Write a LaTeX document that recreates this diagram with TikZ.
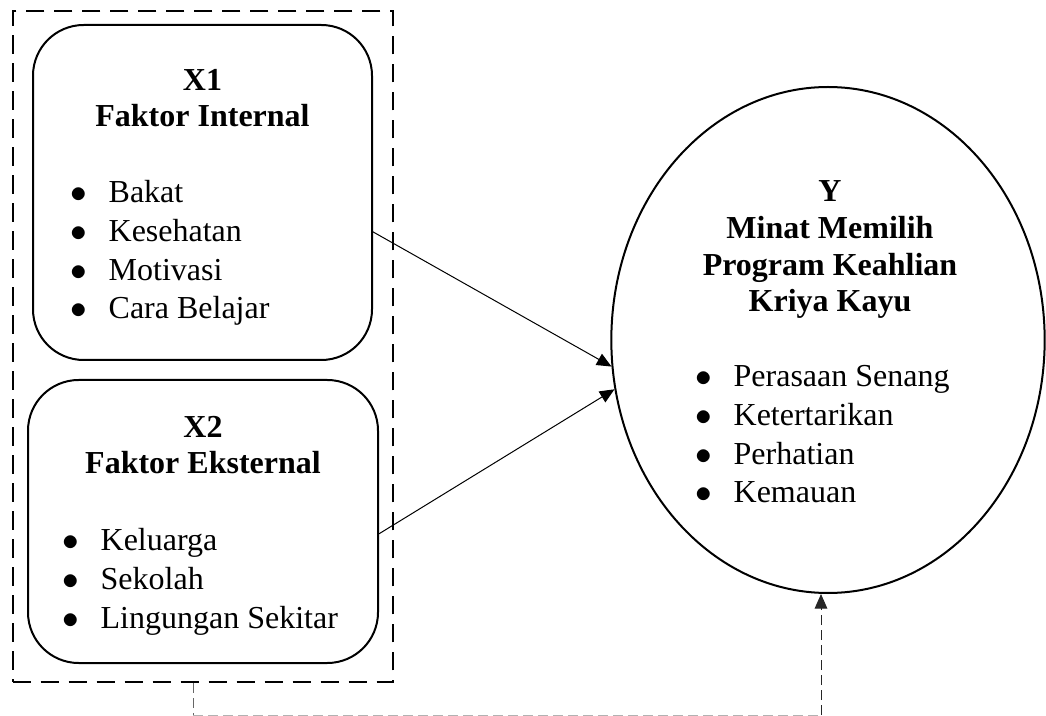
\documentclass[tikz,border=0pt]{standalone}
\usepackage{fontspec}
\setmainfont{Liberation Serif}
\usetikzlibrary{shapes.geometric,arrows.meta,fit}
\newcommand\itm[1]{\makebox[29pt][l]{$\bullet$}#1}
\tikzset{
  x=0.75pt, y=-0.75pt,
  txt/.style={inner sep=0pt, outer sep=0pt},
  ttl/.style={txt, align=center, anchor=base, font=\fontsize{24pt}{27.5pt}\selectfont\bfseries},
  lst/.style={txt, align=left, anchor=base west, font=\fontsize{24pt}{29.2pt}\selectfont},
  rbox/.style={draw, line width=1.5pt, rounded corners=38pt, inner sep=0pt},
  grpbox/.style={draw, line width=1.5pt, dash pattern=on 14pt off 7pt, inner sep=0pt},
  arr/.style={line width=0.75pt, -{Triangle[length=11pt,width=9.5pt]}},
  thin dash/.style={line width=0.75pt, dash pattern=on 7.5pt off 3.75pt},
}
\begin{document}
\begin{tikzpicture}
\useasboundingbox (0,0) rectangle (1046,716);
% outer dashed group
\coordinate (g1) at (12.7,11);
\coordinate (g2) at (393,682);
\node[grpbox, fit=(g1)(g2)] (grp) {};
% X1 box
\coordinate (a1) at (33,25);
\coordinate (a2) at (372,360);
\node[rbox, fit=(a1)(a2)] (x1) {};
% X2 box
\coordinate (b1) at (28,380);
\coordinate (b2) at (378,663);
\node[rbox, fit=(b1)(b2)] (x2) {};
% Y ellipse
\node[ellipse, draw, line width=1.5pt, inner sep=0pt, minimum width=325pt, minimum height=379.5pt] (yy) at (828,340) {};

% texts (anchored at the baseline of their last line)
\node[ttl] (x1t) at (202.5,127) {X1\\Faktor Internal};
\node[lst] (x1l) at (70,319) {\itm{Bakat}\\\itm{Kesehatan}\\\itm{Motivasi}\\\itm{Cara Belajar}};
\node[ttl] (x2t) at (203,474) {X2\\Faktor Eksternal};
\node[lst] (x2l) at (62,628) {\itm{Keluarga}\\\itm{Sekolah}\\\itm{Lingungan Sekitar}};
\node[ttl] (yt) at (830,312) {Y\\Minat Memilih\\Program Keahlian\\Kriya Kayu};
\node[lst] (yl) at (695,503) {\itm{Perasaan Senang}\\\itm{Ketertarikan}\\\itm{Perhatian}\\\itm{Kemauan}};

% arrows
\draw[arr] (x1.-13.4) -- (yy.187.1);
\draw[arr] (x2.-4.1) -- (yy.193.2);

% bottom dashed connector
\coordinate (c1) at (193,715);
\coordinate (c2) at (821,715);
\draw[thin dash, draw=black!60] (grp.south -| c1) -- (c1);
\draw[thin dash, draw=black!30] (c1) -- (c2);
\draw[thin dash, draw=black!85, arr] (c2) -- (c2 |- yy.south);
\end{tikzpicture}
\end{document}
